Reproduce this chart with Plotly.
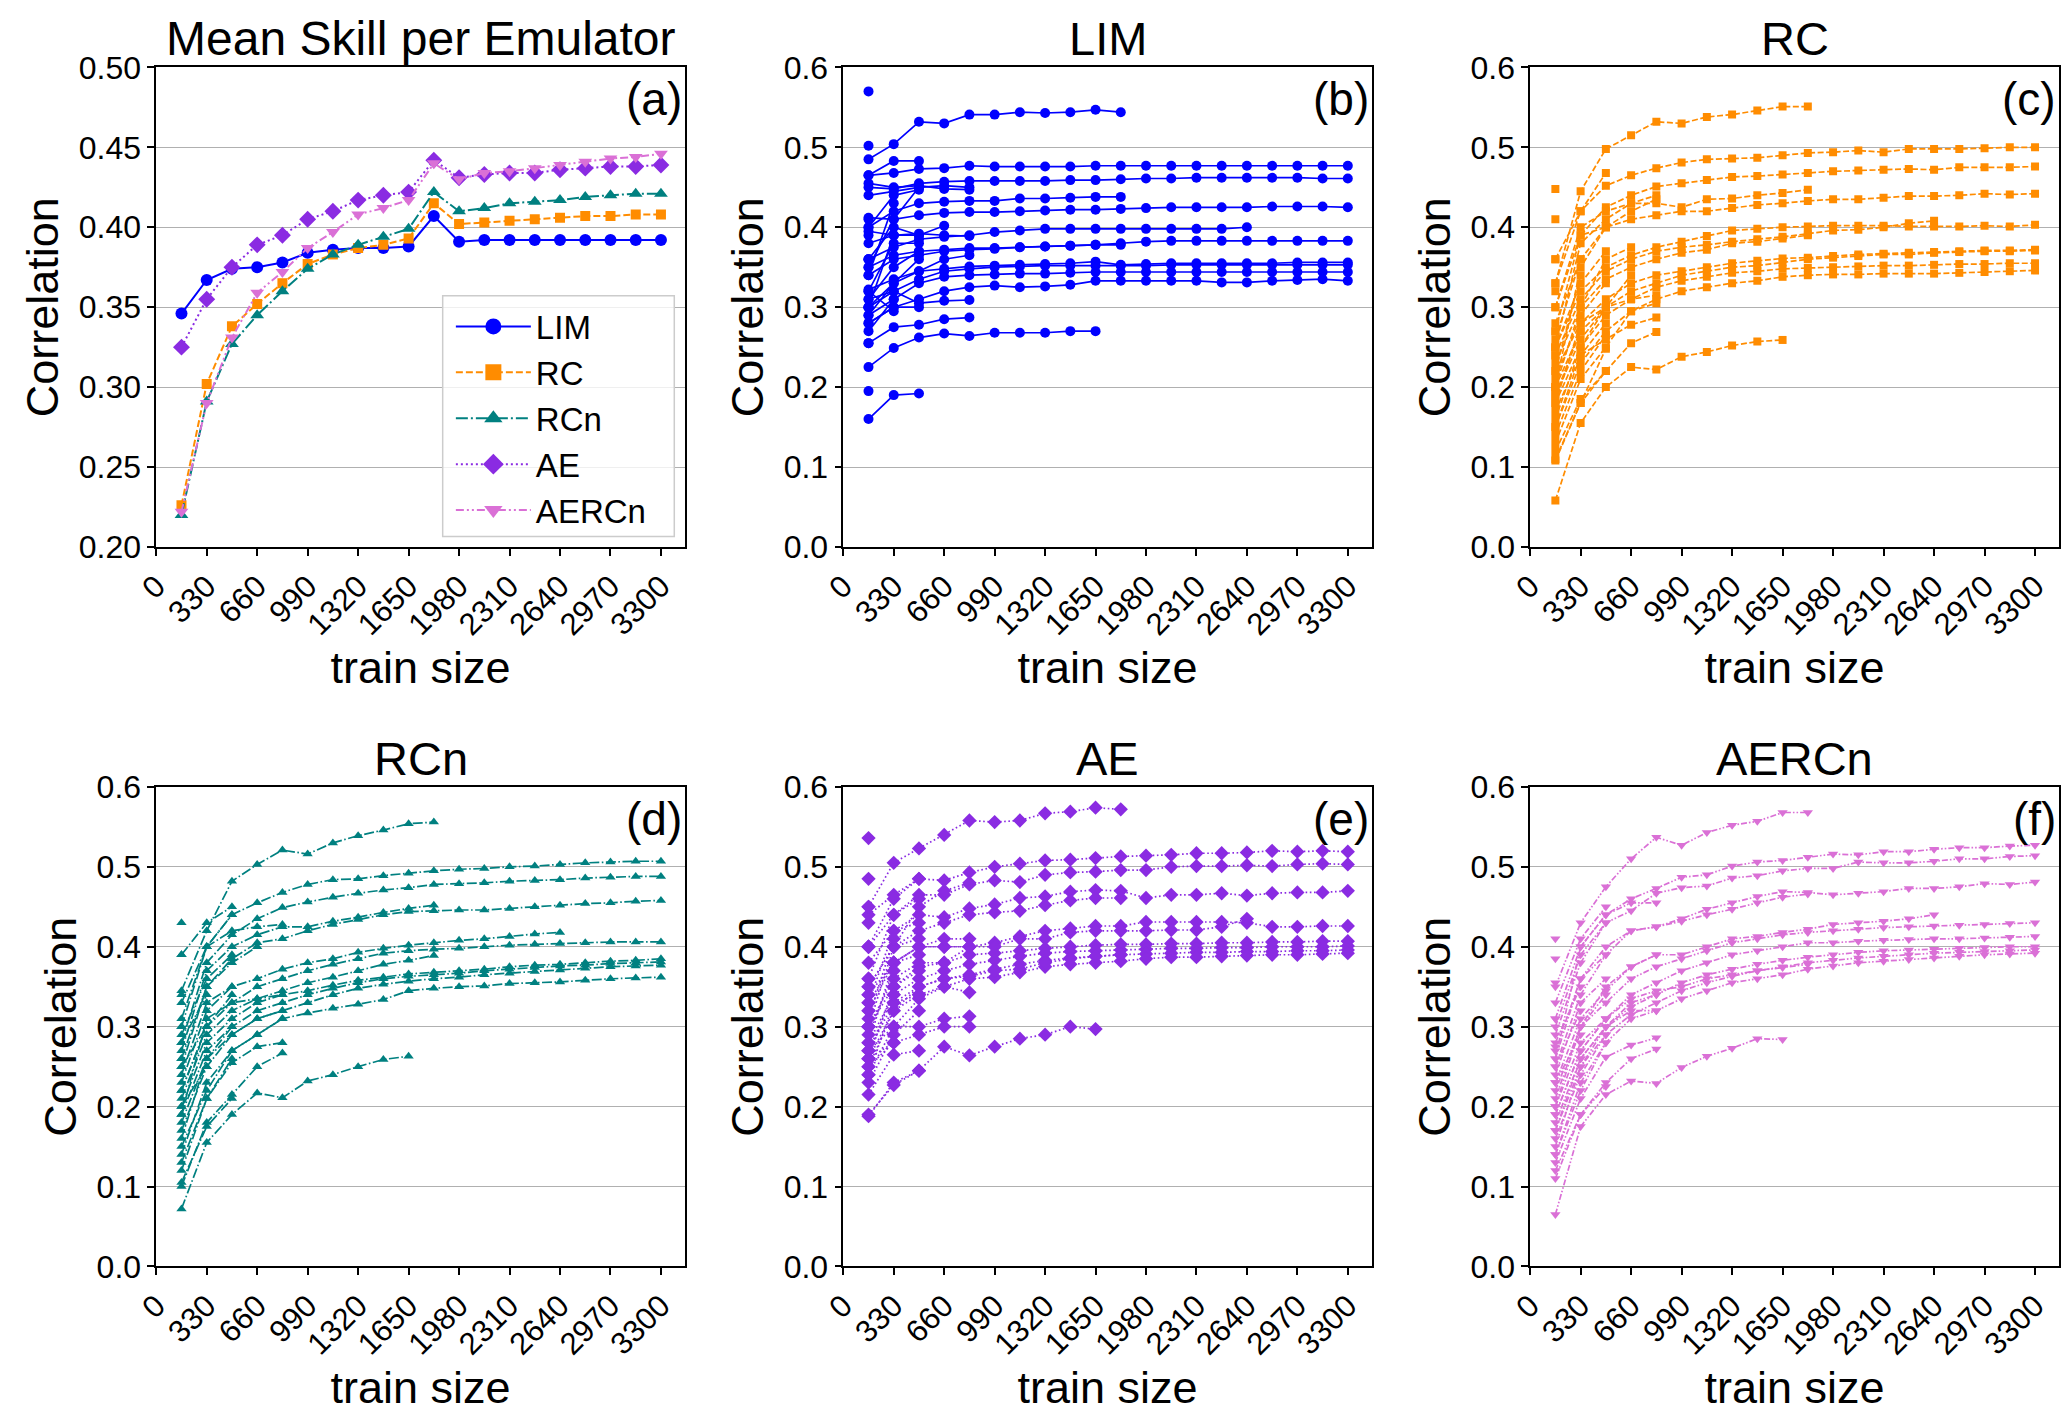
import plotly.graph_objects as go

# training-set sizes (x positions of every point)
TRAIN_SIZE = [165, 330, 495, 660, 825, 990, 1155, 1320, 1485, 1650,
              1815, 1980, 2145, 2310, 2475, 2640, 2805, 2970, 3135, 3300]
X_TICKS = [0, 330, 660, 990, 1320, 1650, 1980, 2310, 2640, 2970, 3300]

EMULATORS = ["LIM", "RC", "RCn", "AE", "AERCn"]
PANEL_LABELS = ["(a)", "(b)", "(c)", "(d)", "(e)", "(f)"]

# panel (a): mean skill per emulator
MEAN_LIM = [0.346, 0.367, 0.374, 0.375, 0.378, 0.384, 0.386, 0.387, 0.387, 0.388,
            0.407, 0.391, 0.392, 0.392, 0.392, 0.392, 0.392, 0.392, 0.392, 0.392]
MEAN_RC = [0.226, 0.302, 0.338, 0.352, 0.365, 0.377, 0.383, 0.387, 0.389, 0.393,
           0.415, 0.402, 0.403, 0.404, 0.405, 0.406, 0.407, 0.407, 0.408, 0.408]
MEAN_RCN = [0.220, 0.291, 0.327, 0.345, 0.360, 0.374, 0.383, 0.389, 0.394, 0.399,
            0.422, 0.410, 0.412, 0.415, 0.416, 0.417, 0.419, 0.420, 0.421, 0.421]
MEAN_AE = [0.325, 0.355, 0.375, 0.389, 0.395, 0.405, 0.410, 0.417, 0.420, 0.422,
           0.442, 0.431, 0.433, 0.434, 0.434, 0.436, 0.437, 0.438, 0.438, 0.439]
MEAN_AERCN = [0.222, 0.290, 0.331, 0.359, 0.372, 0.387, 0.397, 0.408, 0.412, 0.417,
              0.440, 0.430, 0.434, 0.435, 0.437, 0.439, 0.441, 0.443, 0.444, 0.446]

# panels (b)-(f): one list per run, starting at the first train size
LIM_RUNS = [
    [0.465, 0.468, 0.473, 0.474, 0.477, 0.476, 0.476, 0.476, 0.476, 0.477, 0.477, 0.477, 0.477, 0.477, 0.477, 0.477, 0.477, 0.477, 0.477, 0.477],
    [0.450, 0.448, 0.455, 0.457, 0.458, 0.458, 0.458, 0.458, 0.459, 0.459, 0.460, 0.461, 0.461, 0.462, 0.462, 0.462, 0.462, 0.462, 0.461, 0.461],
    [0.412, 0.410, 0.415, 0.418, 0.419, 0.419, 0.420, 0.421, 0.422, 0.422, 0.423, 0.424, 0.425, 0.425, 0.425, 0.425, 0.426, 0.426, 0.426, 0.425],
    [0.350, 0.365, 0.370, 0.372, 0.374, 0.374, 0.375, 0.376, 0.377, 0.378, 0.380, 0.382, 0.383, 0.383, 0.383, 0.383, 0.383, 0.383, 0.383, 0.383],
    [0.322, 0.335, 0.345, 0.348, 0.351, 0.352, 0.353, 0.354, 0.355, 0.357, 0.353, 0.354, 0.355, 0.355, 0.355, 0.355, 0.355, 0.356, 0.356, 0.356],
    [0.300, 0.320, 0.335, 0.345, 0.348, 0.350, 0.351, 0.352, 0.352, 0.352, 0.352, 0.352, 0.353, 0.353, 0.353, 0.353, 0.353, 0.353, 0.353, 0.353],
    [0.290, 0.310, 0.330, 0.338, 0.340, 0.341, 0.342, 0.342, 0.343, 0.344, 0.344, 0.344, 0.344, 0.344, 0.344, 0.344, 0.344, 0.344, 0.344, 0.344],
    [0.280, 0.300, 0.310, 0.320, 0.325, 0.327, 0.325, 0.326, 0.328, 0.333, 0.333, 0.333, 0.333, 0.333, 0.331, 0.331, 0.333, 0.334, 0.335, 0.333],
    [0.360, 0.375, 0.385, 0.388, 0.390, 0.394, 0.396, 0.398, 0.398, 0.398, 0.398, 0.398, 0.398, 0.398, 0.398, 0.400],
    [0.485, 0.504, 0.532, 0.530, 0.541, 0.541, 0.544, 0.543, 0.544, 0.547, 0.544],
    [0.400, 0.420, 0.430, 0.432, 0.433, 0.433, 0.436, 0.436, 0.437, 0.438, 0.438],
    [0.340, 0.360, 0.365, 0.370, 0.372, 0.373, 0.375, 0.376, 0.377, 0.378, 0.378],
    [0.225, 0.249, 0.262, 0.267, 0.264, 0.268, 0.268, 0.268, 0.270, 0.270],
    [0.455, 0.450, 0.452, 0.448, 0.447],
    [0.440, 0.445, 0.450, 0.452, 0.450],
    [0.380, 0.390, 0.392, 0.390, 0.389],
    [0.310, 0.320, 0.305, 0.308, 0.309],
    [0.255, 0.275, 0.278, 0.285, 0.287],
    [0.300, 0.330, 0.345, 0.360, 0.365],
    [0.395, 0.390, 0.390, 0.402],
    [0.465, 0.483, 0.483],
    [0.160, 0.190, 0.192],
    [0.400, 0.440, 0.447],
    [0.360, 0.400, 0.390],
    [0.310, 0.350, 0.370],
    [0.290, 0.330, 0.360],
    [0.280, 0.300, 0.300],
    [0.320, 0.380, 0.380],
    [0.350, 0.410, 0.450],
    [0.300, 0.390], [0.270, 0.310], [0.340, 0.430], [0.320, 0.295],
    [0.570], [0.502], [0.195], [0.255], [0.390], [0.410], [0.360], [0.300],
]

RC_RUNS = [
    [0.360, 0.420, 0.452, 0.465, 0.474, 0.481, 0.485, 0.486, 0.487, 0.490, 0.493, 0.494, 0.496, 0.494, 0.498, 0.498, 0.498, 0.499, 0.500, 0.500],
    [0.300, 0.390, 0.425, 0.440, 0.451, 0.455, 0.459, 0.463, 0.464, 0.466, 0.468, 0.470, 0.471, 0.472, 0.473, 0.472, 0.475, 0.475, 0.475, 0.476],
    [0.280, 0.360, 0.400, 0.410, 0.415, 0.420, 0.420, 0.424, 0.428, 0.430, 0.433, 0.435, 0.435, 0.437, 0.439, 0.439, 0.440, 0.442, 0.441, 0.442],
    [0.250, 0.320, 0.350, 0.365, 0.375, 0.382, 0.389, 0.396, 0.398, 0.400, 0.401, 0.402, 0.402, 0.402, 0.401, 0.401, 0.401, 0.402, 0.401, 0.403],
    [0.220, 0.280, 0.310, 0.330, 0.340, 0.345, 0.350, 0.355, 0.358, 0.361, 0.362, 0.364, 0.366, 0.367, 0.368, 0.369, 0.370, 0.371, 0.371, 0.372],
    [0.200, 0.270, 0.300, 0.320, 0.330, 0.340, 0.345, 0.350, 0.352, 0.356, 0.360, 0.362, 0.364, 0.366, 0.366, 0.368, 0.369, 0.370, 0.370, 0.371],
    [0.180, 0.250, 0.290, 0.310, 0.325, 0.333, 0.338, 0.343, 0.345, 0.348, 0.349, 0.350, 0.351, 0.352, 0.352, 0.353, 0.354, 0.354, 0.355, 0.355],
    [0.150, 0.230, 0.270, 0.295, 0.310, 0.320, 0.325, 0.330, 0.333, 0.338, 0.340, 0.341, 0.341, 0.342, 0.342, 0.342, 0.343, 0.344, 0.345, 0.346],
    [0.240, 0.310, 0.345, 0.360, 0.370, 0.375, 0.378, 0.382, 0.385, 0.388, 0.392, 0.396, 0.397, 0.400, 0.405, 0.408],
    [0.330, 0.445, 0.498, 0.515, 0.532, 0.530, 0.538, 0.541, 0.546, 0.551, 0.551],
    [0.300, 0.400, 0.420, 0.430, 0.430, 0.425, 0.435, 0.436, 0.440, 0.443, 0.447],
    [0.230, 0.300, 0.335, 0.350, 0.360, 0.368, 0.372, 0.380, 0.382, 0.386, 0.390],
    [0.058, 0.155, 0.200, 0.225, 0.222, 0.238, 0.244, 0.252, 0.257, 0.259],
    [0.250, 0.380, 0.410, 0.430, 0.440],
    [0.200, 0.350, 0.400, 0.420, 0.435],
    [0.180, 0.280, 0.300, 0.310, 0.315],
    [0.150, 0.240, 0.260, 0.278, 0.287],
    [0.110, 0.180, 0.220, 0.255, 0.269],
    [0.130, 0.210, 0.250, 0.295, 0.305],
    [0.160, 0.250, 0.300, 0.340],
    [0.200, 0.300, 0.360, 0.375],
    [0.330, 0.420, 0.468],
    [0.270, 0.390, 0.400],
    [0.250, 0.330, 0.370],
    [0.210, 0.290, 0.330],
    [0.190, 0.260, 0.300],
    [0.170, 0.240, 0.280],
    [0.140, 0.220, 0.265],
    [0.120, 0.185, 0.220],
    [0.108, 0.180, 0.248],
    [0.260, 0.360], [0.220, 0.340], [0.190, 0.270],
    [0.448], [0.410], [0.360], [0.320], [0.270], [0.240],
]

RCN_RUNS = [
    [0.310, 0.400, 0.440, 0.455, 0.468, 0.478, 0.484, 0.485, 0.489, 0.492, 0.495, 0.497, 0.498, 0.500, 0.501, 0.503, 0.505, 0.506, 0.507, 0.507],
    [0.280, 0.380, 0.415, 0.435, 0.449, 0.456, 0.462, 0.467, 0.471, 0.474, 0.478, 0.479, 0.480, 0.482, 0.483, 0.484, 0.486, 0.487, 0.488, 0.488],
    [0.260, 0.350, 0.385, 0.405, 0.410, 0.420, 0.428, 0.434, 0.440, 0.444, 0.445, 0.446, 0.446, 0.448, 0.450, 0.452, 0.454, 0.455, 0.457, 0.458],
    [0.220, 0.300, 0.330, 0.350, 0.360, 0.370, 0.378, 0.385, 0.392, 0.395, 0.397, 0.398, 0.400, 0.402, 0.403, 0.404, 0.405, 0.406, 0.406, 0.406],
    [0.200, 0.280, 0.310, 0.330, 0.340, 0.345, 0.352, 0.358, 0.362, 0.366, 0.368, 0.370, 0.372, 0.375, 0.377, 0.378, 0.380, 0.382, 0.383, 0.385],
    [0.190, 0.270, 0.300, 0.320, 0.330, 0.340, 0.348, 0.355, 0.360, 0.363, 0.365, 0.367, 0.370, 0.372, 0.374, 0.376, 0.377, 0.379, 0.380, 0.381],
    [0.170, 0.250, 0.290, 0.310, 0.320, 0.330, 0.340, 0.348, 0.353, 0.357, 0.360, 0.362, 0.365, 0.367, 0.369, 0.371, 0.373, 0.375, 0.376, 0.377],
    [0.150, 0.220, 0.270, 0.290, 0.310, 0.317, 0.323, 0.328, 0.334, 0.345, 0.348, 0.350, 0.351, 0.354, 0.355, 0.356, 0.358, 0.360, 0.361, 0.362],
    [0.230, 0.320, 0.350, 0.360, 0.372, 0.380, 0.385, 0.393, 0.398, 0.402, 0.405, 0.408, 0.410, 0.413, 0.416, 0.418],
    [0.345, 0.420, 0.482, 0.503, 0.521, 0.516, 0.530, 0.539, 0.546, 0.554, 0.556],
    [0.270, 0.370, 0.400, 0.415, 0.425, 0.425, 0.432, 0.437, 0.443, 0.448, 0.452],
    [0.210, 0.290, 0.320, 0.335, 0.345, 0.355, 0.362, 0.370, 0.378, 0.383, 0.389],
    [0.072, 0.155, 0.190, 0.217, 0.211, 0.232, 0.240, 0.250, 0.259, 0.263],
    [0.300, 0.400, 0.420, 0.425, 0.428],
    [0.190, 0.310, 0.330, 0.335, 0.340],
    [0.140, 0.230, 0.270, 0.290, 0.310],
    [0.120, 0.210, 0.255, 0.275, 0.280],
    [0.100, 0.180, 0.215, 0.250, 0.267],
    [0.160, 0.260, 0.290, 0.310, 0.320],
    [0.250, 0.350, 0.380, 0.400],
    [0.390, 0.430, 0.450],
    [0.330, 0.400, 0.440],
    [0.290, 0.360, 0.390],
    [0.240, 0.330, 0.350],
    [0.220, 0.300, 0.340],
    [0.180, 0.260, 0.300],
    [0.130, 0.210, 0.260],
    [0.105, 0.175, 0.210],
    [0.280, 0.340], [0.200, 0.250], [0.250, 0.300],
    [0.430], [0.390], [0.340], [0.300], [0.260],
]

AE_RUNS = [
    [0.440, 0.465, 0.485, 0.483, 0.493, 0.500, 0.504, 0.508, 0.509, 0.511, 0.513, 0.514, 0.515, 0.517, 0.517, 0.518, 0.520, 0.519, 0.520, 0.519],
    [0.400, 0.440, 0.465, 0.465, 0.478, 0.483, 0.481, 0.490, 0.493, 0.494, 0.496, 0.496, 0.500, 0.501, 0.501, 0.502, 0.501, 0.503, 0.504, 0.503],
    [0.380, 0.420, 0.440, 0.437, 0.448, 0.453, 0.461, 0.463, 0.469, 0.471, 0.470, 0.461, 0.465, 0.465, 0.467, 0.464, 0.467, 0.468, 0.468, 0.470],
    [0.330, 0.380, 0.400, 0.400, 0.400, 0.405, 0.413, 0.420, 0.423, 0.426, 0.426, 0.431, 0.431, 0.431, 0.431, 0.430, 0.425, 0.425, 0.426, 0.426],
    [0.300, 0.350, 0.375, 0.380, 0.390, 0.392, 0.395, 0.398, 0.400, 0.402, 0.403, 0.403, 0.404, 0.404, 0.405, 0.405, 0.406, 0.406, 0.407, 0.407],
    [0.280, 0.340, 0.360, 0.370, 0.378, 0.383, 0.388, 0.392, 0.394, 0.395, 0.396, 0.397, 0.398, 0.398, 0.399, 0.399, 0.400, 0.400, 0.400, 0.401],
    [0.260, 0.320, 0.350, 0.360, 0.365, 0.372, 0.378, 0.383, 0.386, 0.388, 0.390, 0.391, 0.392, 0.393, 0.393, 0.394, 0.394, 0.395, 0.395, 0.396],
    [0.240, 0.300, 0.335, 0.350, 0.360, 0.362, 0.368, 0.375, 0.378, 0.380, 0.382, 0.385, 0.387, 0.387, 0.388, 0.389, 0.390, 0.390, 0.391, 0.392],
    [0.340, 0.380, 0.400, 0.400, 0.400, 0.400, 0.410, 0.410, 0.418, 0.420, 0.420, 0.420, 0.421, 0.421, 0.425, 0.435],
    [0.450, 0.505, 0.523, 0.540, 0.558, 0.556, 0.558, 0.567, 0.569, 0.574, 0.572],
    [0.350, 0.400, 0.420, 0.430, 0.440, 0.443, 0.445, 0.452, 0.458, 0.461, 0.461],
    [0.270, 0.330, 0.350, 0.360, 0.363, 0.370, 0.372, 0.380, 0.385, 0.388, 0.390],
    [0.190, 0.227, 0.245, 0.275, 0.264, 0.275, 0.285, 0.290, 0.300, 0.297],
    [0.270, 0.300, 0.300, 0.310, 0.313],
    [0.260, 0.280, 0.290, 0.300, 0.300],
    [0.350, 0.400, 0.450, 0.470, 0.480],
    [0.300, 0.360, 0.380, 0.380, 0.400],
    [0.250, 0.320, 0.340, 0.350, 0.343],
    [0.320, 0.380, 0.400, 0.410, 0.410],
    [0.215, 0.265, 0.270],
    [0.188, 0.230, 0.245],
    [0.400, 0.460, 0.485],
    [0.360, 0.440, 0.460],
    [0.330, 0.420, 0.430],
    [0.300, 0.400, 0.410],
    [0.280, 0.380, 0.390],
    [0.260, 0.350, 0.370],
    [0.240, 0.330, 0.340],
    [0.230, 0.290, 0.320],
    [0.290, 0.370], [0.310, 0.410], [0.270, 0.340], [0.250, 0.280],
    [0.536], [0.485], [0.450], [0.430], [0.400], [0.360], [0.340], [0.320], [0.300],
]

AERCN_RUNS = [
    [0.310, 0.400, 0.440, 0.460, 0.473, 0.487, 0.490, 0.501, 0.506, 0.508, 0.512, 0.516, 0.515, 0.519, 0.519, 0.522, 0.524, 0.524, 0.526, 0.527],
    [0.290, 0.380, 0.430, 0.445, 0.467, 0.474, 0.476, 0.486, 0.489, 0.495, 0.498, 0.498, 0.506, 0.505, 0.505, 0.507, 0.510, 0.510, 0.513, 0.514],
    [0.250, 0.340, 0.390, 0.420, 0.425, 0.435, 0.447, 0.455, 0.463, 0.469, 0.468, 0.465, 0.467, 0.469, 0.473, 0.473, 0.475, 0.479, 0.478, 0.481],
    [0.220, 0.300, 0.330, 0.360, 0.375, 0.385, 0.395, 0.405, 0.410, 0.415, 0.418, 0.420, 0.422, 0.424, 0.425, 0.426, 0.427, 0.428, 0.429, 0.430],
    [0.200, 0.280, 0.310, 0.340, 0.355, 0.370, 0.380, 0.390, 0.395, 0.400, 0.405, 0.405, 0.407, 0.408, 0.409, 0.410, 0.410, 0.411, 0.412, 0.413],
    [0.180, 0.260, 0.300, 0.325, 0.340, 0.355, 0.365, 0.372, 0.378, 0.383, 0.387, 0.390, 0.393, 0.395, 0.396, 0.397, 0.398, 0.399, 0.400, 0.400],
    [0.160, 0.240, 0.290, 0.315, 0.330, 0.345, 0.355, 0.363, 0.370, 0.375, 0.380, 0.383, 0.386, 0.388, 0.390, 0.392, 0.393, 0.394, 0.395, 0.396],
    [0.140, 0.220, 0.280, 0.310, 0.320, 0.335, 0.345, 0.355, 0.360, 0.365, 0.372, 0.376, 0.380, 0.382, 0.384, 0.386, 0.388, 0.390, 0.391, 0.392],
    [0.230, 0.310, 0.345, 0.375, 0.390, 0.390, 0.400, 0.410, 0.413, 0.418, 0.422, 0.428, 0.430, 0.432, 0.435, 0.440],
    [0.350, 0.430, 0.475, 0.510, 0.537, 0.527, 0.543, 0.552, 0.557, 0.568, 0.568],
    [0.270, 0.360, 0.400, 0.420, 0.425, 0.432, 0.440, 0.447, 0.455, 0.462, 0.466],
    [0.190, 0.270, 0.310, 0.335, 0.345, 0.350, 0.360, 0.365, 0.370, 0.374, 0.378],
    [0.065, 0.175, 0.215, 0.232, 0.229, 0.249, 0.263, 0.273, 0.285, 0.284],
    [0.260, 0.400, 0.440, 0.455, 0.455],
    [0.170, 0.260, 0.300, 0.320, 0.320],
    [0.130, 0.210, 0.262, 0.277, 0.286],
    [0.120, 0.190, 0.230, 0.260, 0.272],
    [0.200, 0.300, 0.350, 0.375, 0.390],
    [0.150, 0.250, 0.300, 0.330, 0.340],
    [0.330, 0.410, 0.450],
    [0.300, 0.390, 0.430],
    [0.260, 0.360, 0.390],
    [0.240, 0.330, 0.360],
    [0.210, 0.300, 0.340],
    [0.190, 0.270, 0.310],
    [0.170, 0.250, 0.290],
    [0.140, 0.230, 0.280],
    [0.110, 0.190, 0.225],
    [0.250, 0.320], [0.230, 0.290], [0.280, 0.350],
    [0.410], [0.385], [0.355], [0.310], [0.275],
]

MEANS = [MEAN_LIM, MEAN_RC, MEAN_RCN, MEAN_AE, MEAN_AERCN]
RUNS = [LIM_RUNS, RC_RUNS, RCN_RUNS, AE_RUNS, AERCN_RUNS]

# matplotlib-like styles
COLORS = ["#0000ff", "#ff8c00", "#008080", "#8a2be2", "#da70d6"]
SYMBOLS = ["circle", "square", "triangle-up", "diamond", "triangle-down"]
DASH_MEAN = ["solid", "7px,3px", "12px,3px,2px,3px", "2px,3px", "8px,3px,2px,3px,2px,3px"]
DASH_RUNS = ["solid", "6px,2.5px", "10px,2.5px,1.6px,2.5px", "1.6px,2.6px", "6px,2px,1.6px,2px,1.6px,2px"]
MSIZE_MEAN = [12, 10, 12, 13, 12]
MSIZE_RUNS = [10, 8, 9, 11, 9]

FONT = "Liberation Sans, Arial, sans-serif"

# subplot domains (paper fractions)
COL_X = [[0.0661, 0.3245], [0.4019, 0.6602], [0.7376, 0.9961]]
ROW_Y = [[0.617, 0.9642], [0.096, 0.4432]]
LEGEND_BOX = [0.2061, 0.3193, 0.6246, 0.7989]  # x0, x1, y0, y1 in paper units

fig = go.Figure()

# panel (a)
for i, name in enumerate(EMULATORS):
    fig.add_trace(go.Scatter(
        x=TRAIN_SIZE, y=MEANS[i], name=name, mode="lines+markers",
        line=dict(color=COLORS[i], width=2, dash=DASH_MEAN[i]),
        marker=dict(symbol=SYMBOLS[i], size=MSIZE_MEAN[i], color=COLORS[i]),
        showlegend=False, xaxis="x", yaxis="y",
    ))

# legend entries (larger symbols, like the matplotlib legend)
for i, name in enumerate(EMULATORS):
    fig.add_trace(go.Scatter(
        x=[None], y=[None], name=name, mode="lines+markers",
        line=dict(color=COLORS[i], width=2, dash=DASH_MEAN[i]),
        marker=dict(symbol=SYMBOLS[i], size=16, color=COLORS[i]),
        xaxis="x", yaxis="y",
    ))

# panels (b)-(f)
for i, name in enumerate(EMULATORS):
    ax = str(i + 2)
    for run in RUNS[i]:
        fig.add_trace(go.Scatter(
            x=TRAIN_SIZE[:len(run)], y=run, mode="lines+markers",
            line=dict(color=COLORS[i], width=1.7, dash=DASH_RUNS[i]),
            marker=dict(symbol=SYMBOLS[i], size=MSIZE_RUNS[i], color=COLORS[i]),
            showlegend=False, xaxis="x" + ax, yaxis="y" + ax,
        ))

titles = ["Mean Skill per Emulator"] + EMULATORS
layout = dict(
    width=2067, height=1417,
    margin=dict(l=0, r=0, t=0, b=0),
    paper_bgcolor="white", plot_bgcolor="white",
    font=dict(family=FONT, color="black", size=31),
    legend=dict(x=LEGEND_BOX[0] + 0.004, y=LEGEND_BOX[3] - 0.002,
                xanchor="left", yanchor="top",
                bgcolor="rgba(0,0,0,0)", borderwidth=0,
                font=dict(size=33), itemwidth=75, tracegroupgap=0),
    shapes=[dict(type="rect", xref="paper", yref="paper",
                 x0=LEGEND_BOX[0], x1=LEGEND_BOX[1],
                 y0=LEGEND_BOX[2], y1=LEGEND_BOX[3],
                 line=dict(color="#cccccc", width=1.5),
                 fillcolor="rgba(255,255,255,0.8)", layer="above")],
    annotations=[],
)

for k in range(6):
    r, c = divmod(k, 3)
    sfx = "" if k == 0 else str(k + 1)
    if k == 0:
        yrange, dtick, fmt = [0.20, 0.50], 0.05, ".2f"
    else:
        yrange, dtick, fmt = [0.0, 0.6], 0.1, ".1f"
    layout["xaxis" + sfx] = dict(
        domain=COL_X[c], anchor="y" + sfx, range=[0, 3456.75],
        tickmode="array", tickvals=X_TICKS, tickangle=-45,
        tickfont=dict(size=31), showgrid=False, zeroline=False,
        showline=True, mirror=True, linecolor="black", linewidth=1.5,
        ticks="outside", ticklen=7, tickwidth=1.5, tickcolor="black",
        title=dict(text="train size", font=dict(size=45), standoff=0),
    )
    layout["yaxis" + sfx] = dict(
        domain=ROW_Y[r], anchor="x" + sfx, range=yrange, dtick=dtick,
        tickformat=fmt, tickfont=dict(size=32), showgrid=True,
        gridcolor="#b0b0b0", gridwidth=1.3, zeroline=False,
        showline=True, mirror=True, linecolor="black", linewidth=1.5,
        ticks="outside", ticklen=7, tickwidth=1.5, tickcolor="black",
        title=dict(text="Correlation", font=dict(size=45), standoff=6),
    )
    layout["annotations"].append(dict(
        text=titles[k], xref="x" + sfx + " domain", yref="y" + sfx + " domain",
        x=0.5, y=1, xanchor="center", yanchor="bottom", yshift=0,
        showarrow=False, font=dict(size=48 if k == 0 else 47),
    ))
    layout["annotations"].append(dict(
        text=PANEL_LABELS[k], xref="x" + sfx + " domain", yref="y" + sfx + " domain",
        x=1, y=1, xanchor="right", yanchor="top", xshift=-1, yshift=-4,
        showarrow=False, font=dict(size=46),
    ))

fig.update_layout(**layout)
# drop the default page margin so the figure fills the window exactly
fig.write_html("out.html", config={"displayModeBar": False},
               post_script="document.body.style.margin='0';document.body.style.overflow='hidden';")
